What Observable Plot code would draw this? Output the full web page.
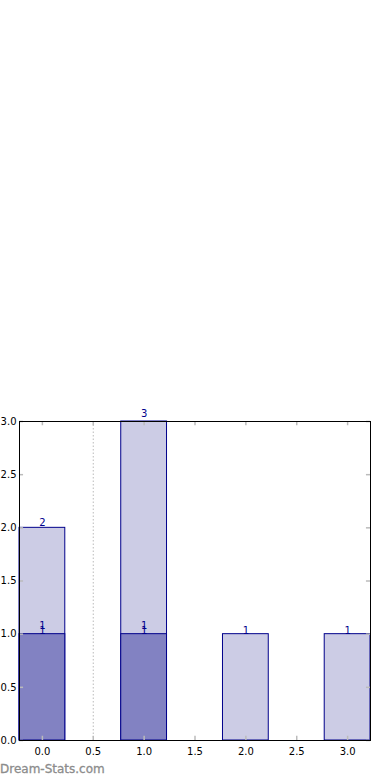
<!DOCTYPE html>
<html>
<head>
<meta charset="utf-8">
<script src="https://cdn.jsdelivr.net/npm/d3@7"></script>
<script src="https://cdn.jsdelivr.net/npm/@observablehq/plot@0.6"></script>
<style>
  html, body { margin: 0; padding: 0; background: #fff; }
  #chart { position: relative; width: 390px; height: 780px; }
  #chart svg { font-family: "DejaVu Sans", sans-serif; }
  #wm { position: absolute; left: 0; top: 762px; font-family: "DejaVu Sans", sans-serif;
        font-size: 12px; font-weight: normal; color: #8c8c8c; -webkit-text-stroke: 0.3px #8c8c8c; }
</style>
</head>
<body>
<div id="chart"></div>
<script>
const categories = [0, 1, 2, 3];
const darkValues = [1, 1, 0, 0];
const totalValues = [2, 3, 1, 1];
const xTicks = [0, 0.5, 1, 1.5, 2, 2.5, 3];
const yTicks = [0, 0.5, 1, 1.5, 2, 2.5, 3];
const xTickLabels = ["0.0", "0.5", "1.0", "1.5", "2.0", "2.5", "3.0"];
const yTickLabels = ["0.0", "0.5", "1.0", "1.5", "2.0", "2.5", "3.0"];
const dividers = [0.5];

const halfWidth = 0.225;
const light = categories.map((c, i) => ({c, v: totalValues[i]}));
const dark = categories.map((c, i) => ({c, v: darkValues[i]})).filter(d => d.v > 0);

const tickGrey = "#bbbbbb";
const navy = "#00008b";

const plot = Plot.plot({
  width: 390,
  height: 780,
  marginTop: 421,
  marginBottom: 40,
  marginLeft: 19,
  marginRight: 20,
  style: {fontFamily: "DejaVu Sans, sans-serif", fontSize: "10px", overflow: "visible"},
  x: {domain: [-halfWidth, 3 + halfWidth], axis: null},
  y: {domain: [0, 3], axis: null},
  marks: [
    Plot.ruleX(dividers, {x: d => d, stroke: "#bbbbbb", strokeDasharray: "1.5,2", strokeWidth: 1}),
    Plot.rectY(light, {x1: d => d.c - halfWidth, x2: d => d.c + halfWidth, y1: 0, y2: d => d.v,
      fill: "#ccccE5", stroke: navy, strokeWidth: 1}),
    Plot.rectY(dark, {x1: d => d.c - halfWidth, x2: d => d.c + halfWidth, y1: 0, y2: d => d.v,
      fill: "#8282c2", stroke: navy, strokeWidth: 1}),
    Plot.ruleX(xTicks, {x: d => d, y1: 0, y2: 0.04, stroke: tickGrey, strokeWidth: 1.5}),
    Plot.ruleX(xTicks, {x: d => d, y1: 3, y2: 2.96, stroke: tickGrey, strokeWidth: 1.5}),
    Plot.ruleY(yTicks, {y: d => d, x1: -halfWidth, x2: -halfWidth + 0.04, stroke: tickGrey, strokeWidth: 1.5}),
    Plot.ruleY(yTicks, {y: d => d, x1: 3 + halfWidth, x2: 3 + halfWidth - 0.04, stroke: tickGrey, strokeWidth: 1.5}),
    Plot.frame({stroke: "black", strokeWidth: 1}),
    Plot.text(xTicks, {x: d => d, y: 0, text: (d, i) => xTickLabels[i], dy: 11, fill: "black", fontSize: 10}),
    Plot.text(yTicks, {x: -halfWidth, y: d => d, text: (d, i) => yTickLabels[i], dx: -3, textAnchor: "end", fill: "black", fontSize: 10}),
    Plot.text(light, {x: "c", y: d => d.v * 1.02, text: d => String(d.v), lineAnchor: "bottom", dy: 2, fill: navy, fontSize: 10}),
    Plot.text(dark, {x: "c", y: d => d.v, text: d => String(d.v), lineAnchor: "bottom", dy: -5, fill: navy, fontSize: 10}),
    Plot.text(dark, {x: "c", y: d => d.v, text: d => String(d.v), lineAnchor: "bottom", dy: 0, fill: navy, fontSize: 10})
  ]
});
document.getElementById("chart").appendChild(plot);
const wm = document.createElement("div");
wm.id = "wm";
wm.textContent = "Dream-Stats.com";
document.getElementById("chart").appendChild(wm);
</script>
</body>
</html>
